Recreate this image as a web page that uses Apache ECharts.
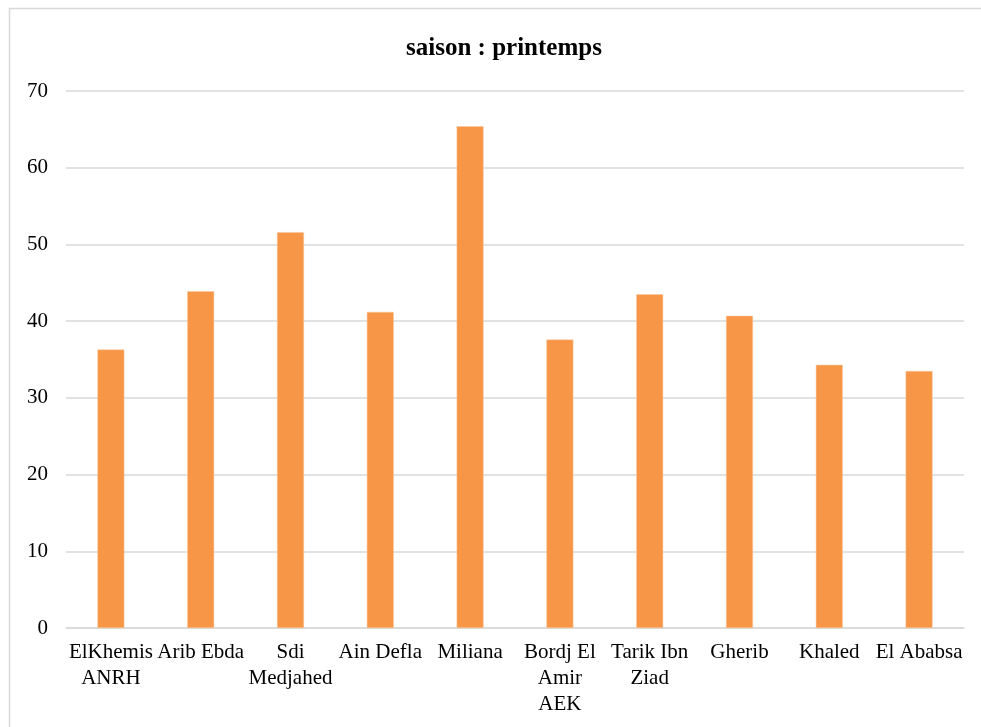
<!DOCTYPE html>
<html>
<head>
<meta charset="utf-8">
<script src="https://cdn.jsdelivr.net/npm/echarts@6/dist/echarts.min.js"></script>
<style>
  html, body { margin: 0; padding: 0; background: #fff; }
  #chart { width: 981px; height: 727px; }
</style>
</head>
<body>
<div id="chart"></div>
<script>
// Stations (line breaks as shown under the axis)
const categories = [
  'ElKhemis\nANRH', 'Arib Ebda', 'Sdi\nMedjahed', 'Ain Defla', 'Miliana',
  'Bordj El\nAmir\nAEK', 'Tarik Ibn\nZiad', 'Gherib', 'Khaled', 'El Ababsa'
];
// Spring values per station
const values = [36.3, 43.9, 51.6, 41.2, 65.4, 37.6, 43.5, 40.7, 34.3, 33.5];
const yTicks = { min: 0, max: 70, interval: 10 };
const titleText = 'saison : printemps';

const font = '"Liberation Serif", "Times New Roman", serif';
const chart = echarts.init(document.getElementById('chart'), null, { renderer: 'canvas' });
chart.setOption({
  animation: false,
  backgroundColor: '#fff',
  graphic: [{
    type: 'rect',
    shape: { x: 9.5, y: 8.5, width: 1000, height: 760 },
    style: { fill: 'none', stroke: '#D9D9D9', lineWidth: 1.5 },
    silent: true
  }],
  title: {
    text: titleText,
    left: 401,
    top: 31,
    textStyle: { fontFamily: font, fontSize: 25, fontWeight: 'bold', color: '#000' }
  },
  grid: { left: 66, right: 17, top: 91, bottom: 99, containLabel: false },
  xAxis: {
    type: 'category',
    data: categories,
    axisLine: { lineStyle: { color: '#D9D9D9', width: 1.5 } },
    axisTick: { show: false },
    axisLabel: {
      interval: 0,
      margin: 11,
      fontFamily: font,
      fontSize: 21,
      lineHeight: 26,
      color: '#000'
    }
  },
  yAxis: {
    type: 'value',
    min: yTicks.min,
    max: yTicks.max,
    interval: yTicks.interval,
    axisLine: { show: false },
    axisTick: { show: false },
    splitLine: { lineStyle: { color: '#D9D9D9', width: 1.5 } },
    axisLabel: { margin: 18, fontFamily: font, fontSize: 21, color: '#000' }
  },
  series: [{
    type: 'bar',
    data: values,
    barWidth: '30%',
    itemStyle: { color: '#F79646', borderColor: '#FBC9A0', borderWidth: 0.5 }
  }]
});
</script>
</body>
</html>
